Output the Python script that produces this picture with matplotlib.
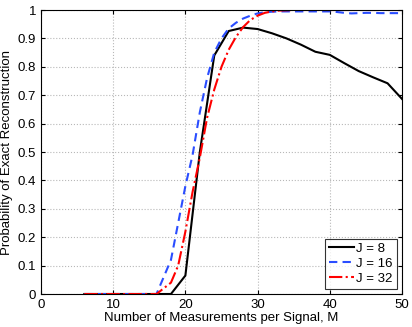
import numpy as np
import matplotlib
matplotlib.use('Agg')
import matplotlib.pyplot as plt

plt.rcParams['font.family'] = ['Liberation Sans', 'DejaVu Sans']

# J = 8 (sampled every 2 measurements)
M_8 = np.arange(6, 51, 2)
P_8 = [0, 0, 0, 0, 0, 0, 0, 0.065, 0.50, 0.84, 0.926, 0.938,
       0.933, 0.918, 0.90, 0.878, 0.853, 0.842, 0.813, 0.785, 0.763, 0.742, 0.687]

# J = 16 and J = 32 (sampled every measurement)
M_16 = np.arange(6, 51)
P_16 = [0, 0, 0, 0, 0, 0, 0, 0, 0, 0, 0.0,
        0.06, 0.12, 0.25, 0.38, 0.49, 0.64, 0.76, 0.85, 0.90, 0.935,
        0.955, 0.97, 0.98, 0.988, 0.992, 0.994, 0.995, 0.995, 0.995, 0.995,
        0.995, 0.995, 0.995, 0.995, 0.993, 0.99, 0.988, 0.989, 0.99, 0.99,
        0.989, 0.989, 0.989, 0.989]

M_32 = np.arange(6, 51)
P_32 = [0, 0, 0, 0, 0, 0, 0, 0, 0, 0, 0.0,
        0.02, 0.04, 0.10, 0.22, 0.36, 0.48, 0.62, 0.72, 0.80, 0.86,
        0.905, 0.94, 0.965, 0.98, 0.99, 0.995, 0.998, 0.999, 1.0, 1.0,
        1.0, 1.0, 1.0, 1.0, 1.0, 1.0, 1.0, 1.0, 1.0, 1.0,
        1.0, 1.0, 1.0, 1.0]

fig = plt.figure(figsize=(4.12, 3.27), dpi=100)
ax = fig.add_axes([0.0995, 0.1009, 0.8762, 0.8685])

ax.plot(M_8, P_8, 'k-', lw=1.5, label='J = 8')
ax.plot(M_16, P_16, '--', color='#2a4dff', lw=1.5, dashes=(4, 2.5), label='J = 16')
ax.plot(M_32, P_32, '-.', color='#ff0000', lw=1.5, label='J = 32')

ax.set_xlim(0, 50)
ax.set_ylim(0, 1)
ax.set_xticks(np.arange(0, 51, 10))
ax.set_yticks(np.arange(0, 1.01, 0.1))
ax.set_yticklabels(['0', '0.1', '0.2', '0.3', '0.4', '0.5', '0.6', '0.7', '0.8', '0.9', '1'])
ax.grid(True, ls=':', color='#b8b8b8', lw=0.8)
ax.tick_params(direction='in', labelsize=9.5, length=3, top=True, right=True)
ax.set_xlabel('Number of Measurements per Signal, M', fontsize=9.5, labelpad=1)
ax.set_ylabel('Probability of Exact Reconstruction', fontsize=9.5, labelpad=3)

leg = ax.legend(loc='lower right', fontsize=9.5, fancybox=False, edgecolor='black',
                handlelength=1.9, handletextpad=0.15, borderpad=0.3, labelspacing=0.2,
                borderaxespad=0.4)
leg.get_frame().set_linewidth(0.8)

fig.savefig('out.png', dpi=100)
